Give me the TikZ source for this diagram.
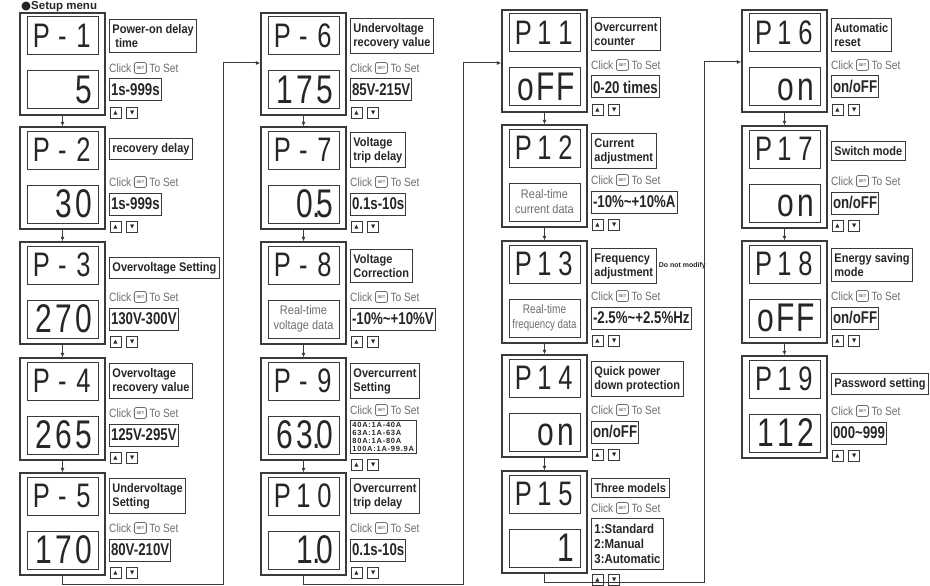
\documentclass[tikz,border=0pt]{standalone}
\usepackage{graphicx}
\usepackage{fontspec}
\setmainfont{Liberation Sans}
\usetikzlibrary{arrows.meta}
\newfontfamily\lblfam[FakeStretch=0.88]{Liberation Sans}
\newfontfamily\rngfam[FakeStretch=0.78]{Liberation Sans}
\newfontfamily\lcdfam[FakeStretch=0.75]{Liberation Sans}
\newfontfamily\clkfam[FakeStretch=0.85]{Liberation Sans}
\newfontfamily\rtfam[FakeStretch=0.88]{Liberation Sans}
\newfontfamily\smfam[LetterSpace=10]{Liberation Sans}
\newfontfamily\symfam{DejaVu Sans}
\definecolor{ink}{HTML}{262626}
\definecolor{frame}{HTML}{3A3A3A}
\definecolor{soft}{HTML}{6E6E6E}
\newcommand\lcdcell[1]{\makebox[21pt][c]{#1}}
\newcommand\lcdvcell[1]{\makebox[20pt][c]{#1}}
\newcommand\valrow[1]{\makebox[62pt][r]{\vphantom{0}#1}}
\newcommand\coderow[3]{\vphantom{P}\lcdcell{#1}\lcdcell{#2}\lcdcell{#3}}
\tikzset{
  outerbox/.style={draw=frame, line width=1.3pt, minimum width=85pt, minimum height=102pt, inner sep=0pt},
  dispbox/.style={draw=frame, line width=1pt, minimum width=71pt, minimum height=38pt, inner sep=0pt, text=ink},
  codetxt/.style={font=\lcdfam\fontsize{34}{34}\selectfont},
  valtxt/.style={font=\lcdfam\fontsize{40}{40}\selectfont},
  rttxt/.style={font=\rtfam\fontsize{12.5}{15}\selectfont, align=center, text=soft},
  lblbox/.style={draw=frame, line width=0.9pt, font=\lblfam\bfseries\fontsize{12.5}{14}\selectfont, align=left, inner xsep=3pt, inner ysep=5pt, text=ink},
  rngbox/.style={draw=frame, line width=1pt, font=\rngfam\bfseries\fontsize{17}{17}\selectfont, inner xsep=1.5pt, inner ysep=0pt, minimum height=22pt, text=ink},
  smallrng/.style={draw=frame, line width=0.9pt, font=\smfam\bfseries\fontsize{7.5}{8}\selectfont, align=left, inner xsep=2pt, inner ysep=1.5pt, text=ink},
  clk/.style={font=\clkfam\fontsize{12}{12}\selectfont, text=soft, inner sep=0.5pt},
  seticon/.style={draw=soft, line width=0.8pt, rounded corners=1.5pt, minimum width=12pt, minimum height=11pt, inner sep=0pt, font=\bfseries\fontsize{4}{4}\selectfont, text=soft},
  btn/.style={draw=frame, line width=0.8pt, minimum size=11pt, inner sep=0pt, font=\symfam\fontsize{5.5}{5.5}\selectfont, text=ink},
  conn/.style={draw=frame, line width=1pt},
  arrowend/.style={-{Latex[length=4.5pt,width=4pt]}}
}
\newcommand\PUnit[6][valtxt]{%
  \node[outerbox] (#2) at ({#3+42.5},{#4+51}) {};
  \node[dispbox,codetxt] (#2c) at ({#3+42.5},{#4+23}) {#5};
  \node[dispbox,#1] (#2v) at ({#3+42.5},{#4+77}) {#6};
}
\newcommand\PClick[3]{%
  \node[clk,anchor=west] (#1k) at ({#2+88.5},{#3}) {Click};
  \node[seticon,anchor=west] (#1s) at ([xshift=2pt]#1k.east) {SET};
  \node[clk,anchor=west] (#1t) at ([xshift=2pt]#1s.east) {To Set};
}
\newcommand\PBtns[3]{%
  \node[btn,anchor=west] (#1up) at ({#2+89.5},{#3}) {▲};
  \node[btn,anchor=west] (#1dn) at ([xshift=5pt]#1up.east) {▼};
}
\newcommand\PSide[6]{%
  \node[lblbox,anchor=west] (#1l) at ({#2+89},{#3+#4}) {#5};
  \PClick{#1}{#2}{#3+55}
  \node[rngbox,anchor=west] (#1r) at ({#2+89},{#3+77}) {#6};
  \PBtns{#1}{#2}{#3+100}
}
\begin{document}
\begin{tikzpicture}[x=1pt,y=-1pt]
\useasboundingbox (0,0) rectangle (930,586);
\fill[white] (0,0) rectangle (930,586);
\node[anchor=base west, inner sep=0pt, font=\bfseries\fontsize{11.5}{12}\selectfont, text=ink] (title) at (21,10) {{\symfam ●}Setup menu};

% ---------- column 1 ----------
\PUnit{P1}{20}{13}{\coderow{P}{-}{1}}{\valrow{\lcdvcell{5}}}
\PSide{P1}{20}{13}{23}{Power-on delay\\\hspace*{3pt}time}{1s-999s}
\PUnit{P2}{20}{127}{\coderow{P}{-}{2}}{\valrow{\lcdvcell{3}\lcdvcell{0}}}
\PSide{P2}{20}{127}{22}{recovery delay}{1s-999s}
\PUnit{P3}{20}{242}{\coderow{P}{-}{3}}{\valrow{\lcdvcell{2}\lcdvcell{7}\lcdvcell{0}}}
\PSide{P3}{20}{242}{26}{Overvoltage Setting}{130V-300V}
\PUnit{P4}{20}{358}{\coderow{P}{-}{4}}{\valrow{\lcdvcell{2}\lcdvcell{6}\lcdvcell{5}}}
\PSide{P4}{20}{358}{23}{Overvoltage\\recovery value}{125V-295V}
\PUnit{P5}{20}{473}{\coderow{P}{-}{5}}{\valrow{\lcdvcell{1}\lcdvcell{7}\lcdvcell{0}}}
\PSide{P5}{20}{473}{23}{Undervoltage\\Setting}{80V-210V}

% ---------- column 2 ----------
\PUnit{P6}{261}{13}{\coderow{P}{-}{6}}{\valrow{\lcdvcell{1}\lcdvcell{7}\lcdvcell{5}}}
\PSide{P6}{261}{13}{23}{Undervoltage\\recovery value}{85V-215V}
\PUnit{P7}{261}{127}{\coderow{P}{-}{7}}{\valrow{\lcdvcell{0\rlap{.}}\lcdvcell{5}}}
\PSide{P7}{261}{127}{23}{Voltage\\trip delay}{0.1s-10s}
\PUnit[rttxt]{P8}{261}{242}{\coderow{P}{-}{8}}{Real-time\\voltage data}
\PSide{P8}{261}{242}{24}{Voltage\\Correction}{-10\%\textasciitilde+10\%V}
\PUnit{P9}{261}{358}{\coderow{P}{-}{9}}{\valrow{\lcdvcell{6}\lcdvcell{3\rlap{.}}\lcdvcell{0}}}
\node[lblbox,anchor=west] (P9l) at (350,381) {Overcurrent\\Setting};
\PClick{P9}{261}{410}
\node[smallrng,anchor=west] (P9r) at (350,437) {40A:1A-40A\\63A:1A-63A\\80A:1A-80A\\100A:1A-99.9A};
\PBtns{P9}{261}{465}
\PUnit{P10}{261}{473}{\coderow{P}{1}{0}}{\valrow{\lcdvcell{1\rlap{.}}\lcdvcell{0}}}
\PSide{P10}{261}{473}{23}{Overcurrent\\trip delay}{0.1s-10s}

% ---------- column 3 ----------
\PUnit{P11}{502}{10}{\coderow{P}{1}{1}}{\valrow{\lcdvcell{o}\lcdvcell{F}\lcdvcell{F}}}
\PSide{P11}{502}{10}{24}{Overcurrent\\counter}{0-20 times}
\PUnit[rttxt]{P12}{502}{125}{\coderow{P}{1}{2}}{Real-time\\current data}
\PSide{P12}{502}{125}{26}{Current\\adjustment}{-10\%\textasciitilde+10\%A}
\PUnit[rttxt]{P13}{502}{241}{\coderow{P}{1}{3}}{\scalebox{0.92}[1]{Real-time}\\\scalebox{0.88}[1]{frequency data}}
\PSide{P13}{502}{241}{25}{Frequency\\adjustment}{-2.5\%\textasciitilde+2.5\%Hz}
\node[anchor=west, inner sep=0pt, font=\bfseries\fontsize{7}{8}\selectfont, text=ink] (P13n) at ([xshift=2pt]P13l.east) {Do not modify};
\PUnit{P14}{502}{355}{\coderow{P}{1}{4}}{\valrow{\lcdvcell{o}\lcdvcell{n}}}
\PSide{P14}{502}{355}{24}{Quick power\\down protection}{on/oFF}
\PUnit{P15}{502}{471}{\coderow{P}{1}{5}}{\valrow{\lcdvcell{1}}}
\node[lblbox,anchor=west] (P15l) at (591,488) {Three models};
\PClick{P15}{502}{508}
\node[lblbox,anchor=west,font=\lblfam\bfseries\fontsize{13}{15}\selectfont,inner ysep=6pt] (P15r) at (591,544) {1:Standard\\2:Manual\\3:Automatic};
\PBtns{P15}{502}{580}

% ---------- column 4 ----------
\PUnit{P16}{742}{10}{\coderow{P}{1}{6}}{\valrow{\lcdvcell{o}\lcdvcell{n}}}
\PSide{P16}{742}{10}{25}{Automatic\\reset}{on/oFF}
\PUnit{P17}{742}{126}{\coderow{P}{1}{7}}{\valrow{\lcdvcell{o}\lcdvcell{n}}}
\PSide{P17}{742}{126}{25}{Switch mode}{on/oFF}
\PUnit{P18}{742}{241}{\coderow{P}{1}{8}}{\valrow{\lcdvcell{o}\lcdvcell{F}\lcdvcell{F}}}
\PSide{P18}{742}{241}{24}{Energy saving\\mode}{on/oFF}
\PUnit{P19}{742}{356}{\coderow{P}{1}{9}}{\valrow{\lcdvcell{1}\lcdvcell{1}\lcdvcell{2}}}
\PSide{P19}{742}{356}{28}{Password setting}{000\textasciitilde999}

% ---------- connectors ----------
\foreach \ua/\ub in {P1/P2,P2/P3,P3/P4,P4/P5,P6/P7,P7/P8,P8/P9,P9/P10,P11/P12,P12/P13,P13/P14,P14/P15,P16/P17,P17/P18,P18/P19}
  \draw[conn,arrowend] (\ua.south) -- (\ub.north);
\coordinate (b1) at (223,584);
\coordinate (t1) at (223,63);
\draw[conn,arrowend] (P5.south) -- (P5.south |- b1) -- (b1) -- (t1) -- (P6.west |- t1);
\coordinate (b2) at (463,584);
\coordinate (t2) at (463,63);
\draw[conn,arrowend] (P10.south) -- (P10.south |- b2) -- (b2) -- (t2) -- (P11.west |- t2);
\coordinate (b3) at (704,582);
\coordinate (t3) at (704,62);
\draw[conn,arrowend] (P15.south) -- (P15.south |- b3) -- (b3) -- (t3) -- (P16.west |- t3);
\end{tikzpicture}
\end{document}
